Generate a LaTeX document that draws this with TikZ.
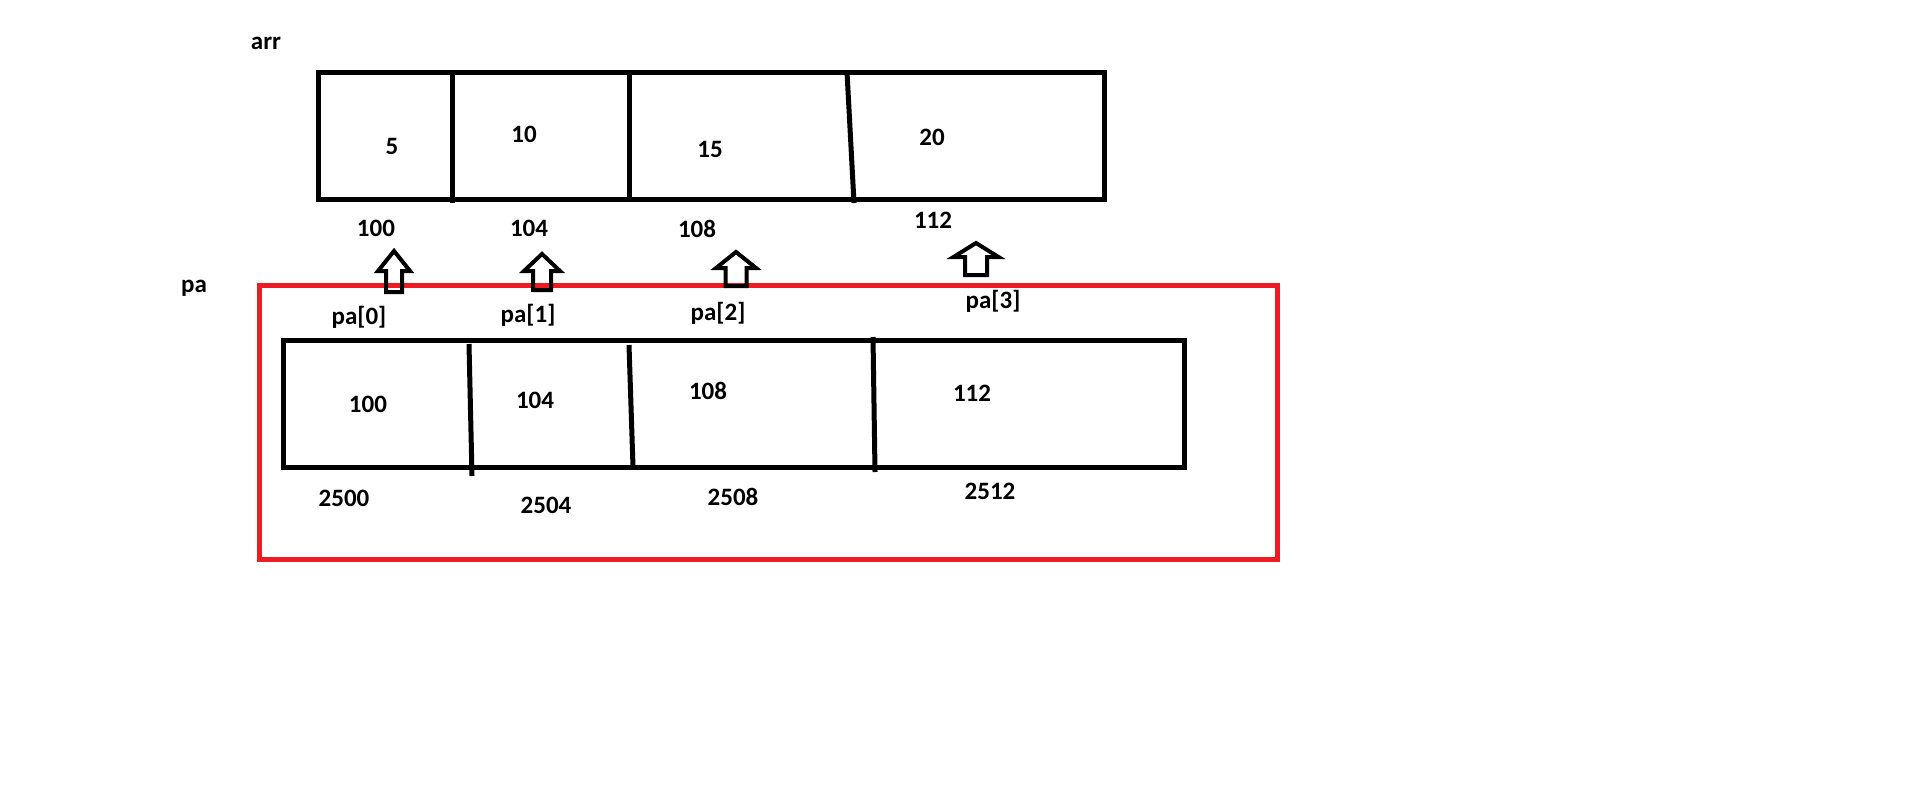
\documentclass[tikz,border=0pt]{standalone}
\usepackage{fontspec}
\setmainfont{Carlito}
\usepackage{tikz}
\definecolor{paintred}{RGB}{237,28,36}

\begin{document}
\begin{tikzpicture}[x=0.5pt,y=-0.5pt,line width=2.5pt,
  lbl/.style={inner sep=0pt,font=\fontsize{12.5}{15}\selectfont\bfseries}]
\useasboundingbox (0,0) rectangle (1914,809);
\draw[paintred] (259,285) rectangle (1277,559);
\draw (318,72) rectangle (1104,199);
\draw (452,72) -- (452,203);
\draw (629,72) -- (629,199);
\draw (847,72) -- (854,203);
\draw (283,340) rectangle (1184,467);
\draw (469,344) -- (472,476);
\draw (629,345) -- (633,467);
\draw (873,337) -- (875,472);
\node[lbl] (arr) at (266,43) {arr};
\node[lbl] (pa) at (194,288) {pa};
\foreach \i/\v/\vx/\vy/\a/\ax/\ay in {0/5/392/146/100/376/228, 1/10/524/134/104/529/228,
  2/15/710/149/108/697/229, 3/20/932/137/112/933/220}
  {\node[lbl] (val\i) at (\vx,\vy) {\v};
   \node[lbl] (adr\i) at (\ax,\ay) {\a};}
\foreach \i/\px/\py/\v/\vx/\vy/\a/\ax/\ay in {0/359/317/100/368/404/2500/344/498,
  1/528/315/104/535/400/2504/546/505, 2/718/313/108/708/391/2508/733/497,
  3/993/301/112/972/393/2512/990/491}
  {\node[lbl] (pa\i) at (\px,\py) {pa[\i]};
   \node[lbl] (pval\i) at (\vx,\vy) {\v};
   \node[lbl] (padr\i) at (\ax,\ay) {\a};}
\foreach \c/\t/\h/\b/\hw/\sw in {394/251/271/292/16/8, 542/254/271/290/18/9,
  736/252/268/286/20/10.5, 976/243/257/275/22.5/11}
  {\draw[line width=2pt,line join=miter] (\c,\t) -- (\c+\hw,\h) -- (\c+\sw,\h)
    -- (\c+\sw,\b) -- (\c-\sw,\b) -- (\c-\sw,\h) -- (\c-\hw,\h) -- cycle;}
\end{tikzpicture}
\end{document}
